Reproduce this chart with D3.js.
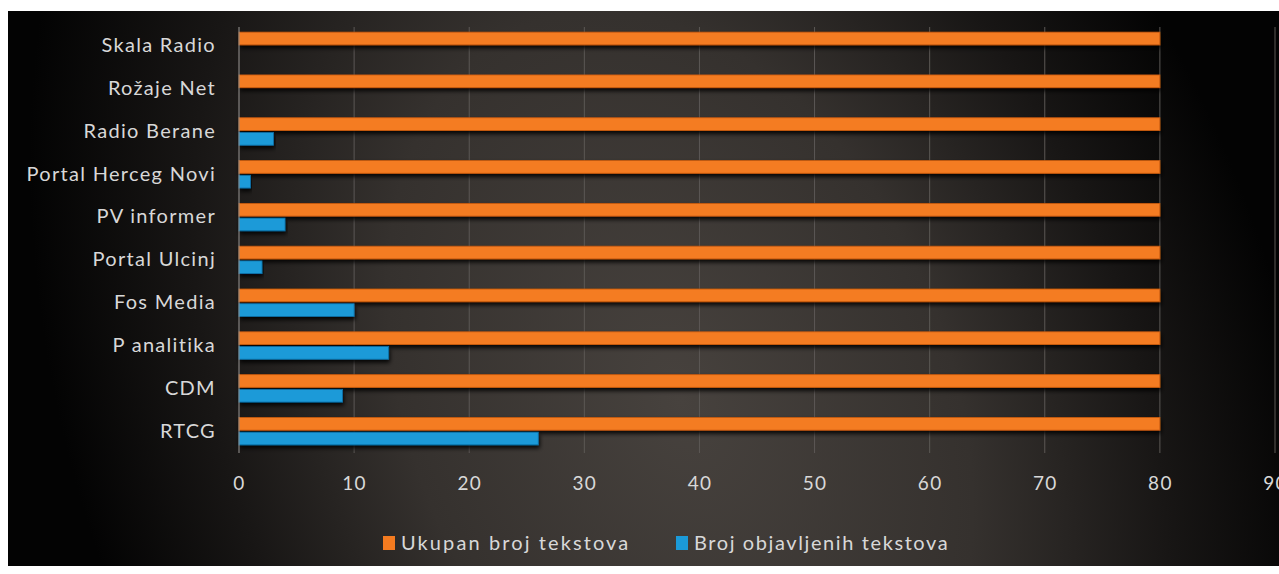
<!DOCTYPE html>
<html>
<head>
<meta charset="UTF-8">
<title>Mediji - broj tekstova</title>
<script src="https://d3js.org/d3.v7.min.js"></script>
<style>
    body { margin: 0; background: #fff; }
    svg text { font-family: Lato, "Open Sans", sans-serif; fill: #d8d8d8; letter-spacing: 1.3px; }
</style>
</head>
<body>
<div class="chart"></div>
<script>

// data (top to bottom as in the picture)
var categories = ["Skala Radio", "Rožaje Net", "Radio Berane", "Portal Herceg Novi", "PV informer",
                  "Portal Ulcinj", "Fos Media", "P analitika", "CDM", "RTCG"];
var ukupanBroj = [80, 80, 80, 80, 80, 80, 80, 80, 80, 80];
var objavljeniBroj = [0, 0, 3, 1, 4, 2, 10, 13, 9, 26];
var xTicks = [0, 10, 20, 30, 40, 50, 60, 70, 80, 90];
var seriesNames = ["Ukupan broj tekstova", "Broj objavljenih tekstova"];
var seriesColors = ["#f47b20", "#1b9ad8"];

var width = 1279, height = 574;

var svg = d3.select(".chart").append("svg")
        .attr("width", width)
        .attr("height", height);

var defs = svg.append("defs");

// dark background, grey glow through the middle, black at the sides
var bg = defs.append("radialGradient").attr("id", "bg")
        .attr("gradientUnits", "userSpaceOnUse")
        .attr("cx", 680).attr("cy", 400).attr("r", 600)
        .attr("gradientTransform", "translate(680,400) rotate(-22) scale(1,1.5) translate(-680,-400)");
bg.append("stop").attr("offset", "0%").attr("stop-color", "#47423e");
bg.append("stop").attr("offset", "45%").attr("stop-color", "#35312e");
bg.append("stop").attr("offset", "75%").attr("stop-color", "#181615");
bg.append("stop").attr("offset", "100%").attr("stop-color", "#030303");

var shadow = defs.append("filter").attr("id", "shadow")
        .attr("x", "-5%").attr("y", "-50%").attr("width", "110%").attr("height", "250%");
shadow.append("feDropShadow").attr("dx", 1).attr("dy", 3).attr("stdDeviation", 2)
        .attr("flood-color", "#000").attr("flood-opacity", 0.9);

svg.append("rect")
        .attr("x", 8).attr("y", 11)
        .attr("width", width - 8).attr("height", 555)
        .attr("fill", "url(#bg)");

var plotTop = 27, plotBottom = 453;

var x = d3.scaleLinear()
        .domain([0, 90])
        .range([239, 1275]);

var y = d3.scaleBand()
        .domain(categories)
        .range([plotTop + 3, plotBottom - 6])
        .paddingInner(0.36)
        .paddingOuter(0.05);

// vertical gridlines
svg.append("g").selectAll("line")
        .data(xTicks.slice(1))
        .enter().append("line")
        .attr("x1", function (d) { return x(d); })
        .attr("x2", function (d) { return x(d); })
        .attr("y1", plotTop)
        .attr("y2", plotBottom)
        .attr("stroke", "#5c5855")
        .attr("stroke-width", 1);

var barH = y.bandwidth() / 2;

var rows = svg.append("g").selectAll("g")
        .data(categories)
        .enter().append("g")
        .attr("transform", function (d) { return "translate(0," + y(d) + ")"; });

rows.append("rect")
        .attr("x", x(0))
        .attr("y", 0)
        .attr("width", function (d, i) { return x(ukupanBroj[i]) - x(0); })
        .attr("height", barH - 1)
        .attr("fill", seriesColors[0])
        .attr("stroke", "#c85a10")
        .attr("stroke-width", 0.8)
        .attr("filter", "url(#shadow)");

rows.append("rect")
        .attr("x", x(0))
        .attr("y", barH + 1)
        .attr("width", function (d, i) { return x(objavljeniBroj[i]) - x(0); })
        .attr("height", barH - 1)
        .attr("fill", seriesColors[1])
        .attr("stroke", "#0c6fa6")
        .attr("stroke-width", 0.8)
        .attr("filter", "url(#shadow)");

// category axis
var yAxis = svg.append("g")
        .attr("transform", "translate(" + x(0) + ",0)")
        .call(d3.axisLeft(y).tickSize(0).tickPadding(23));
yAxis.select(".domain").remove();
yAxis.append("line")
        .attr("x1", 0).attr("x2", 0)
        .attr("y1", plotTop).attr("y2", plotBottom)
        .attr("stroke", "#9a9795");
yAxis.selectAll("text")
        .attr("fill", "#d8d8d8")
        .style("font-size", "20px")
        .attr("dy", "0.32em");

// value axis
var xAxis = svg.append("g")
        .attr("transform", "translate(0," + plotBottom + ")")
        .call(d3.axisBottom(x).tickValues(xTicks).tickSize(0).tickPadding(24));
xAxis.select(".domain").remove();
xAxis.selectAll("text")
        .attr("fill", "#d8d8d8")
        .style("font-size", "19px");

// legend
var legend = svg.append("g").attr("transform", "translate(383,543)");
var legendX = [0, 293];
var item = legend.selectAll("g")
        .data(seriesNames)
        .enter().append("g")
        .attr("transform", function (d, i) { return "translate(" + legendX[i] + ",0)"; });
item.append("rect")
        .attr("x", 0).attr("y", -7)
        .attr("width", 12).attr("height", 14)
        .attr("fill", function (d, i) { return seriesColors[i]; });
item.append("text")
        .attr("x", 18)
        .attr("dy", "0.35em")
        .style("font-size", "20px")
        .style("letter-spacing", function (d, i) { return i === 0 ? "2.1px" : "1.6px"; })
        .text(function (d) { return d; });

</script>
</body>
</html>
